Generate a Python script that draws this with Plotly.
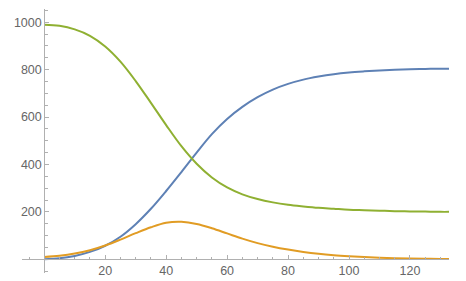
import plotly.graph_objects as go

t = [0, 5, 10, 15, 20, 25, 30, 35, 40, 45, 50, 55, 60, 65, 70, 75, 80, 85, 90,
     95, 100, 105, 110, 115, 120, 125, 130, 133]
recovered = [0, 4, 14, 31, 57, 95, 148, 213, 288, 368, 450, 528, 592, 643, 684,
             716, 740, 758, 771, 781, 788, 793, 797, 800, 802, 803, 804, 804]
infected = [10, 15, 24, 38, 58, 83, 110, 135, 154, 158, 149, 131, 109, 87, 68,
            53, 41, 31, 23, 17, 12.5, 9, 6.3, 4.5, 3.2, 2.2, 1.6, 1.3]
susceptible = [990, 985, 970, 943, 898, 834, 752, 660, 566, 477, 403, 345, 303,
               274, 254, 240, 230, 223, 217, 213, 209, 207, 205, 203, 202, 201, 200, 200]

x_ticks = [20, 40, 60, 80, 100, 120]
y_ticks = [200, 400, 600, 800, 1000]

x_range = [-7.3, 132.8]
y_range = [-58, 1056]

series = [
    (recovered, "#5E81B5"),
    (infected, "#E19C24"),
    (susceptible, "#8FB032"),
]

fig = go.Figure()
for vals, col in series:
    fig.add_trace(go.Scatter(x=t, y=vals, mode="lines",
                             line=dict(color=col, width=2, shape="spline", smoothing=1.0),
                             hoverinfo="skip", showlegend=False))

axis_col = "#b0b0b0"
font_col = "#666666"
xpos = (0 - y_range[0]) / (y_range[1] - y_range[0])
ypos = (0 - x_range[0]) / (x_range[1] - x_range[0])

fig.update_layout(
    width=466, height=281,
    margin=dict(l=22, r=17, t=9, b=8, autoexpand=False),
    paper_bgcolor="white", plot_bgcolor="white",
    font=dict(family="Liberation Sans, Arial, sans-serif", size=12.5, color=font_col),
    xaxis=dict(range=x_range, showgrid=False, zeroline=False, showline=True,
               linecolor=axis_col, linewidth=1, anchor="free", position=xpos,
               automargin=False,
               tickmode="array", tickvals=x_ticks, ticks="inside", ticklen=4,
               tickcolor=axis_col, tickfont=dict(color=font_col),
               minor=dict(tickmode="linear", tick0=0, dtick=5, ticks="inside",
                          ticklen=2.5, tickcolor=axis_col)),
    yaxis=dict(range=y_range, showgrid=False, zeroline=False, showline=True,
               linecolor=axis_col, linewidth=1, anchor="free", position=ypos,
               automargin=False,
               tickmode="array", tickvals=y_ticks, ticks="inside", ticklen=4,
               tickcolor=axis_col, tickfont=dict(color=font_col),
               minor=dict(tickmode="linear", tick0=0, dtick=50, ticks="inside",
                          ticklen=2.5, tickcolor=axis_col)),
)

fig.write_html("out.html")
